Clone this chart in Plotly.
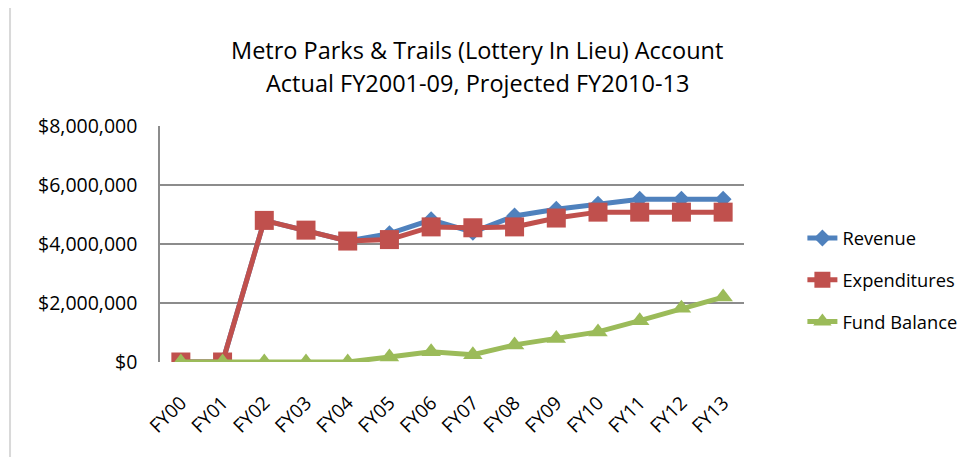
import plotly.graph_objects as go

# fiscal years on the category axis
years = ["FY00", "FY01", "FY02", "FY03", "FY04", "FY05", "FY06",
         "FY07", "FY08", "FY09", "FY10", "FY11", "FY12", "FY13"]

# dollars
revenue = [0, 0, 4800000, 4470000, 4100000, 4350000, 4820000,
           4400000, 4950000, 5180000, 5350000, 5520000, 5520000, 5520000]
expenditures = [0, 0, 4800000, 4470000, 4100000, 4150000, 4580000,
                4550000, 4580000, 4880000, 5080000, 5080000, 5080000, 5080000]
fund_balance = [0, 0, 0, 0, 0, 170000, 350000,
                250000, 580000, 800000, 1020000, 1400000, 1820000, 2200000]

y_ticks = [0, 2000000, 4000000, 6000000, 8000000]
y_labels = ["$0", "$2,000,000", "$4,000,000", "$6,000,000", "$8,000,000"]

title_lines = ["Metro Parks & Trails (Lottery In Lieu) Account",
               "Actual FY2001-09, Projected FY2010-13"]

FONT = "Open Sans"

fig = go.Figure()

fig.add_trace(go.Scatter(
    x=years, y=revenue, name="Revenue", mode="lines+markers",
    line=dict(color="#4F81BD", width=5),
    marker=dict(symbol="diamond", size=13, color="#4F81BD"),
    legendgroup="a"))
fig.add_trace(go.Scatter(
    x=years, y=expenditures, name="Expenditures", mode="lines+markers",
    line=dict(color="#C0504D", width=5),
    marker=dict(symbol="square", size=19, color="#C0504D"),
    legendgroup="b"))
fig.add_trace(go.Scatter(
    x=years, y=fund_balance, name="Fund Balance", mode="lines+markers",
    line=dict(color="#9BBB59", width=5),
    marker=dict(symbol="triangle-up", size=17, color="#9BBB59"),
    legendgroup="c"))

# the page body adds an 8px offset, so margins are shifted back by 8
fig.update_layout(
    width=976, height=457,
    margin=dict(l=152, r=240, t=118, b=103, autoexpand=False),
    paper_bgcolor="white", plot_bgcolor="white",
    font=dict(family=FONT, size=18, color="black"),
    legend=dict(
        x=1.10, xanchor="left", y=0.347, yanchor="middle",
        traceorder="grouped", tracegroupgap=15,
        font=dict(family=FONT, size=18.3, color="black"),
        bgcolor="rgba(0,0,0,0)"),
    showlegend=True,
)

# two-line title, placed line by line to get Excel's wider line spacing
for line, ypos in zip(title_lines, [1.322, 1.182]):
    fig.add_annotation(text=line, xref="paper", yref="paper",
                       x=0.543, y=ypos, xanchor="center", yanchor="middle",
                       showarrow=False,
                       font=dict(family=FONT, size=23.5, color="black"))

fig.update_xaxes(
    type="category", range=[-0.5, 13.5], automargin=False,
    showgrid=False, showline=False, zeroline=False,
    tickangle=-45, ticks="", ticklabelstandoff=25,
    tickfont=dict(family=FONT, size=19, color="black"))

fig.update_yaxes(
    range=[0, 8000000], tickvals=y_ticks, ticktext=y_labels, automargin=False,
    showgrid=True, gridcolor="#8c8c8c", gridwidth=1.5,
    zeroline=False, showline=True, linecolor="#8c8c8c", linewidth=1.5,
    ticks="", ticklabelstandoff=17,
    tickfont=dict(family=FONT, size=19.5, color="black"))

# light frame around the whole chart (right and bottom fall outside the picture)
fig.add_shape(type="rect", xref="paper", yref="paper",
              x0=-0.2568, x1=1.5, y0=-0.5, y1=1.504,
              line=dict(color="#d9d9d9", width=2), fillcolor="rgba(0,0,0,0)",
              layer="below")

fig.write_html("out.html")
